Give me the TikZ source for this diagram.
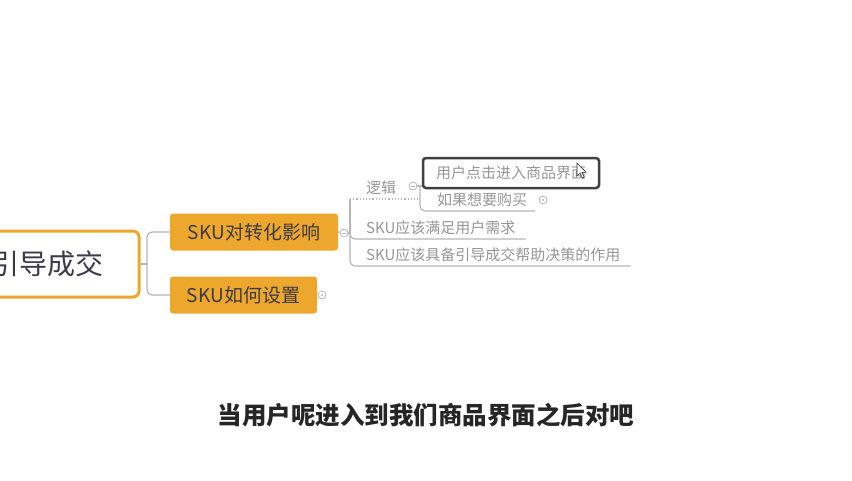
\documentclass[tikz,border=0pt]{standalone}
\usepackage{fontspec}
\setmainfont{Noto Sans CJK SC}
\usetikzlibrary{positioning, arrows.meta, shapes}
\usepackage{xcolor}
\definecolor{MapOrange}{RGB}{238,167,45}
\definecolor{MapLine}{RGB}{182,182,182}
\definecolor{MapText}{RGB}{58,58,72}
\definecolor{LeafGray}{RGB}{150,150,150}
\definecolor{CaptionBlack}{RGB}{38,38,38}

\begin{document}
\begin{tikzpicture}[x=1pt, y=-1pt]
  \tikzstyle{root} = [rectangle, draw=MapOrange, line width=3pt, fill=white,
    rounded corners=6pt, minimum width=184pt, minimum height=66pt,
    text=MapText, font=\fontsize{28}{30}\selectfont]
  \tikzstyle{topic} = [rectangle, fill=MapOrange, rounded corners=3pt,
    minimum height=37pt, text=MapText, font=\fontsize{19}{21}\selectfont]
  \tikzstyle{leaf} = [anchor=south west, inner xsep=0pt, inner ysep=4.5pt,
    text=LeafGray, font=\fontsize{15}{17}\selectfont]
  \tikzstyle{picked} = [rectangle, draw=black!75, line width=2.5pt, fill=white,
    rounded corners=3pt, minimum width=176pt, minimum height=30pt,
    text=LeafGray, font=\fontsize{15}{17}\selectfont]
  \tikzstyle{branch} = [draw=MapLine, line width=1.2pt, rounded corners=5pt]
  \tikzstyle{toggle} = [circle, draw=MapLine, line width=0.8pt, fill=white,
    minimum size=8pt, inner sep=0pt]
  \tikzstyle{fold} = [toggle, path picture={\draw[MapLine, line width=0.8pt]
    ([xshift=2pt]path picture bounding box.west) -- ([xshift=-2pt]path picture bounding box.east);}]
  \tikzstyle{unfold} = [toggle, path picture={\fill[MapLine]
    (path picture bounding box.center) circle (1.2pt);}]

  \useasboundingbox (0,0) rectangle (852,480);
  \clip (0,0) rectangle (852,480);

  % Nodo central
  \node[root] (main) at (47,264) {引导成交};

  % Ramas principales
  \node[topic, minimum width=168pt] (conv) at (254,232) {SKU对转化影响};
  \node[topic, minimum width=147pt] (setup) at (243.5,295) {SKU如何设置};
  \node[fold] (conv-t) at (344,233) {};
  \node[unfold] (setup-t) at (322,295) {};

  \coordinate (hub) at (147,264);
  \draw[branch] (main.east) -- (hub);
  \draw[branch] (hub) |- (conv.west);
  \draw[branch] (hub) |- (setup.west);
  \draw[branch] (conv.east) -- (conv-t);

  % Hojas
  \node[leaf] (logic) at (366,199) {逻辑};
  \node[fold] (logic-t) at (413,186) {};
  \node[picked] (click) at (511,173) {用户点击进入商品界面};
  \node[leaf] (buy) at (437,211) {如果想要购买};
  \node[unfold] (buy-t) at (543,200) {};
  \node[leaf] (need) at (366,239) {SKU应该满足用户需求};
  \node[leaf] (help) at (366,266) {SKU应该具备引导成交帮助决策的作用};

  \coordinate (spine) at (350,233);
  \coordinate (hub2) at (420,186);
  \draw[branch] (conv-t) -- (spine);
  \draw[branch] (spine) -- (spine |- logic.south);
  \draw[branch, dotted, rounded corners=0pt] (spine |- logic.south) -- (hub2 |- logic.south);
  \draw[branch] (spine) |- ([xshift=10pt]need.south east);
  \draw[branch] (spine) |- ([xshift=10pt]help.south east);
  \draw[branch] (logic-t) -- (hub2);
  \draw[branch] (hub2) |- ([xshift=8pt]buy.south east);
  \draw[branch] (hub2) -- (click.west |- hub2);

  % Cursor
  \draw[black!80, fill=white, line width=0.6pt] (577,163) -- ++(0,13) -- ++(3,-3)
    -- ++(2.5,5) -- ++(1.8,-0.8) -- ++(-2.4,-4.8) -- ++(4.3,0) -- cycle;

  % Subtitulo
  \node[font=\fontsize{24.5}{26}\selectfont\bfseries, text=CaptionBlack] (caption)
    at (426,415) {当用户呢进入到我们商品界面之后对吧};
\end{tikzpicture}
\end{document}
